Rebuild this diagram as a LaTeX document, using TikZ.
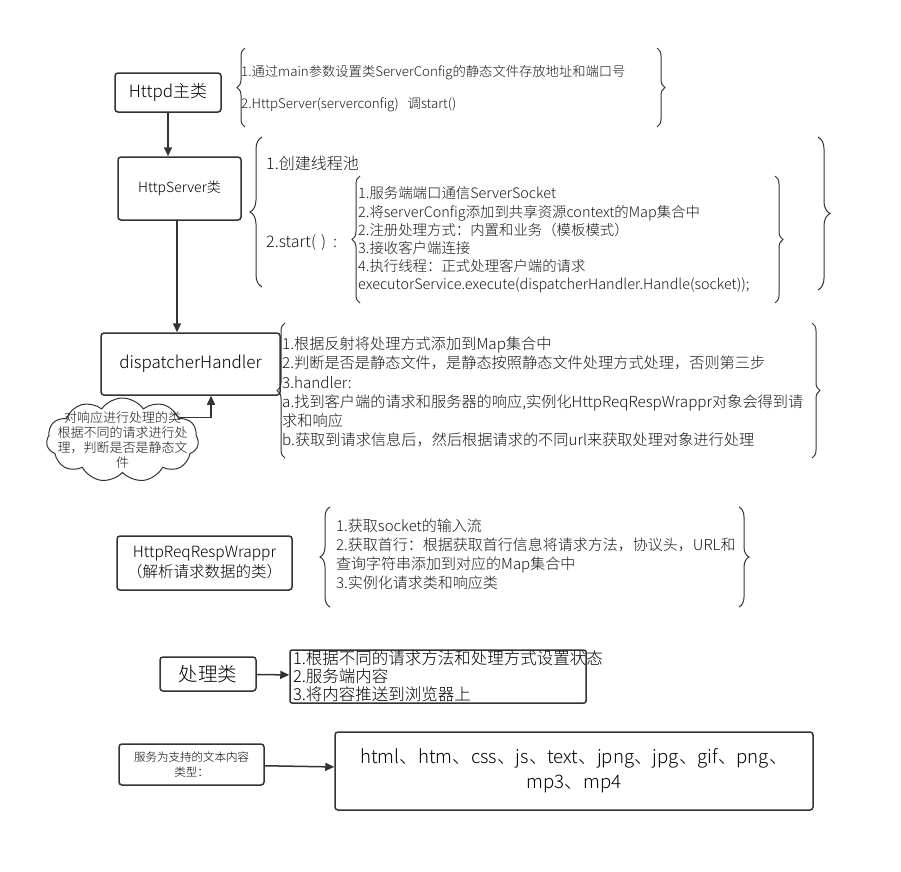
\documentclass[tikz,border=0pt]{standalone}
\usepackage{fontspec}
\setmainfont{Noto Sans CJK SC}[UprightFont=* Light]
\definecolor{lineg}{HTML}{333333}
\usetikzlibrary{arrows.meta,positioning,shapes.symbols,decorations.pathreplacing}

\begin{document}
\begin{tikzpicture}[x=1pt, y=-1pt,
      cls/.style={draw=lineg, line width=1.5pt, rounded corners=3pt,
                  align=center, inner sep=2pt},
      txt/.style={anchor=west, align=left, inner sep=0pt, text=black!90},
      lbr/.style={draw=lineg, line width=1pt, decorate,
                  decoration={brace, amplitude=#1}},
      lbr/.default=8pt,
      arr/.style={-{Triangle[length=9pt, width=8pt]}, line width=1.5pt, color=lineg}
  ]
    \useasboundingbox (0,0) rectangle (901,871);

    \node[cls, minimum width=106, minimum height=39, font=\fontsize{17}{18}\selectfont] (httpd) at (168,92.5) {Httpd主类};
    \node[txt, font=\fontsize{13.3}{14}\selectfont] (t1a) at (241,73) {1.通过main参数设置类ServerConfig的静态文件存放地址和端口号};
    \node[txt, font=\fontsize{13.3}{14}\selectfont] (t1b) at (241,105) {2.HttpServer(serverconfig)\ \ \ 调start()};
    \draw[lbr] (245,127) -- (245,48);
    \draw[lbr] (657,48) -- (657,127);

    \node[cls, minimum width=123, minimum height=63, font=\fontsize{14}{16}\selectfont] (hs) at (179.5,188.5) {HttpServer类};
    \node[txt, font=\fontsize{16}{18}\selectfont] (t2a) at (266,163) {1.创建线程池};
    \node[txt, font=\fontsize{16}{18}\selectfont] (t2b) at (266,243) {2.start(\hspace{5pt})\hspace{7pt}:};
    \draw[lbr=12pt] (262,287) -- (262,137);
    \draw[lbr=12pt] (818,137) -- (818,290);
    \node[txt, font=\fontsize{14.4}{18.2}\selectfont] (t2c) at (358,240) {1.服务端端口通信ServerSocket\\
      2.将serverConfig添加到共享资源context的Map集合中\\
      2.注册处理方式：内置和业务（模板模式）\\
      3.接收客户端连接\\
      4.执行线程：正式处理客户端的请求\\
      executorService.execute(dispatcherHandler.Handle(socket));};
    \draw[lbr] (360,303) -- (360,176);
    \draw[lbr] (775,176) -- (775,303);

    \node[cls, minimum width=179, minimum height=62, font=\fontsize{17}{20}\selectfont] (dh) at (190.5,364) {dispatcherHandler};
    \node[cloud, draw=lineg, line width=1pt, cloud puffs=11, cloud puff arc=110, cloud ignores aspect,
          minimum width=152, minimum height=84, inner sep=0pt] (cl) at (122.5,440) {};
    \node[align=center, inner sep=0pt, text=black!90, font=\fontsize{13}{15}\selectfont] (clt) at (cl) {对响应进行处理的类\\根据不同的请求进行处\\理，判断是否是静态文\\件};
    \draw[arr] (cl.22) -| ([xshift=20.5]dh.south);
    \node[txt, font=\fontsize{15.2}{19.2}\selectfont] (t3) at (282,392) {1.根据反射将处理方式添加到Map集合中\\
      2.判断是否是静态文件，是静态按照静态文件处理方式处理，否则第三步\\
      3.handler:\\
      a.找到客户端的请求和服务器的响应,实例化HttpReqRespWrappr对象会得到请\\
      求和响应\\
      b.获取到请求信息后，然后根据请求的不同url来获取处理对象进行处理};
    \draw[lbr] (285,458) -- (285,323);
    \draw[lbr] (812,323) -- (812,458);

    \draw[arr] (httpd.south) -- (httpd.south |- hs.north);
    \draw[arr] ([xshift=-2.5]hs.south) -- ([xshift=-2.5]hs.south |- dh.north);

    \node[cls, minimum width=175, minimum height=54, font=\fontsize{15.5}{20}\selectfont] (wr) at (204.5,563) {HttpReqRespWrappr\\（解析请求数据的类）};
    \node[txt, font=\fontsize{15}{19}\selectfont] (t4) at (336,554) {1.获取socket的输入流\\
      2.获取首行：根据获取首行信息将请求方法，协议头，URL和\\
      查询字符串添加到对应的Map集合中\\
      3.实例化请求类和响应类};
    \draw[lbr=10pt] (330,607) -- (330,507);
    \draw[lbr=10pt] (739,507) -- (739,607);

    \node[cls, minimum width=96, minimum height=34, font=\fontsize{19.5}{20}\selectfont] (pc) at (208,674) {处理类};
    \node[draw=lineg, line width=1.5pt, rounded corners=2pt, text width=290, inner xsep=3pt, inner ysep=0pt,
          minimum height=53, align=left, font=\fontsize{16.5}{18}\selectfont] (pb) at (438,676.5) {1.根据不同的请求方法和处理方式设置状态\\
      2.服务端内容\\
      3.将内容推送到浏览器上};
    \draw[arr] (pc) -- (pb);

    \node[cls, minimum width=145, minimum height=41, font=\fontsize{11.5}{15}\selectfont] (ty) at (191.5,764.5) {服务为支持的文本内容\\类型：};
    \node[cls, minimum width=478, minimum height=78, font=\fontsize{18.6}{25}\selectfont] (tl) at (574,771) {html、htm、css、js、text、jpng、jpg、gif、png、\\mp3、mp4};
    \draw[arr] (ty) -- (tl);
  \end{tikzpicture}
\end{document}
